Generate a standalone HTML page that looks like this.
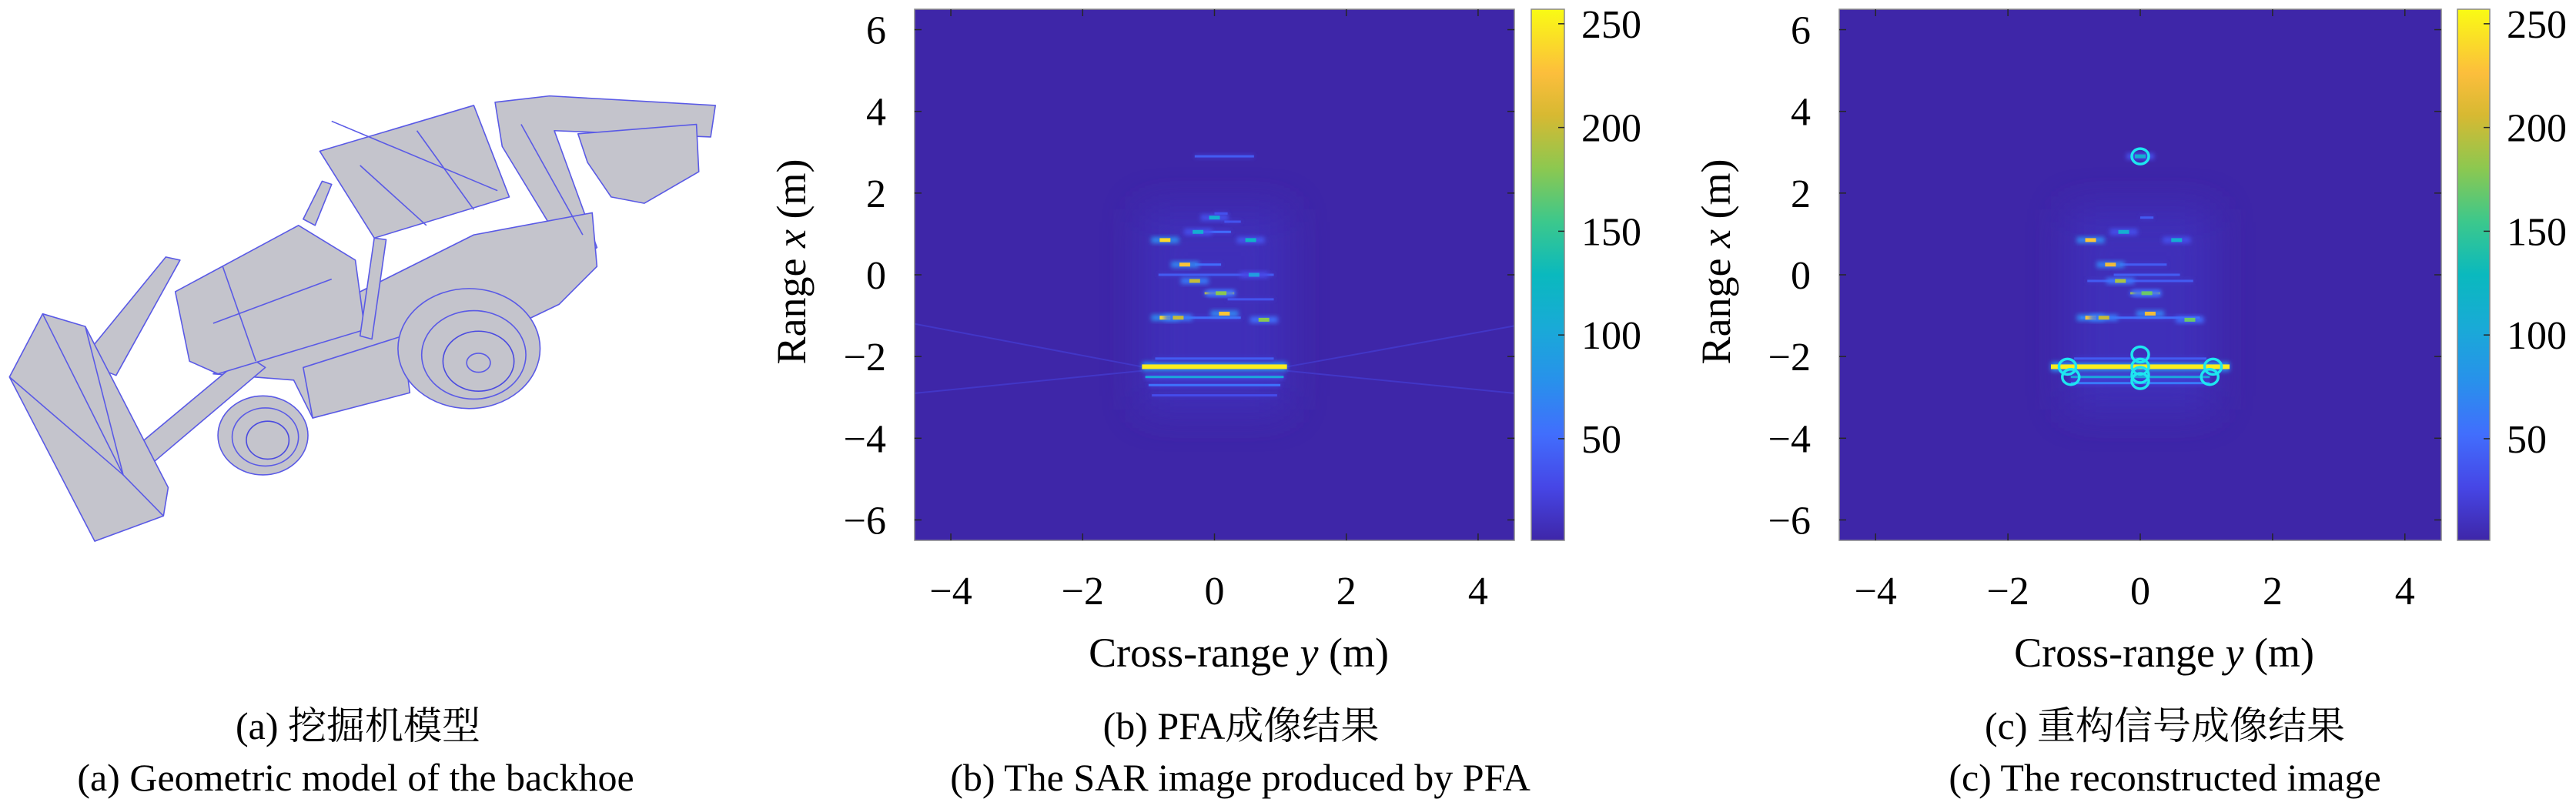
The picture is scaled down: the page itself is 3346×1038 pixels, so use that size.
<!DOCTYPE html>
<html><head><meta charset="utf-8">
<style>
html,body{margin:0;padding:0;background:#fff;}
svg{display:block;}
</style></head>
<body>
<svg id="fig" width="3346" height="1038" viewBox="0 0 3346 1038" xmlns="http://www.w3.org/2000/svg" font-family="'Liberation Serif', 'Noto Serif CJK SC', serif">
<defs>
<linearGradient id="parula" x1="0" y1="1" x2="0" y2="0">
<stop offset="0" stop-color="rgb(62,38,168)"/>
<stop offset="0.1" stop-color="rgb(70,70,230)"/>
<stop offset="0.2" stop-color="rgb(65,110,253)"/>
<stop offset="0.3" stop-color="rgb(40,145,235)"/>
<stop offset="0.4" stop-color="rgb(25,170,215)"/>
<stop offset="0.5" stop-color="rgb(10,185,190)"/>
<stop offset="0.6" stop-color="rgb(60,200,140)"/>
<stop offset="0.7" stop-color="rgb(140,200,80)"/>
<stop offset="0.8" stop-color="rgb(215,185,50)"/>
<stop offset="0.88" stop-color="rgb(252,190,60)"/>
<stop offset="1" stop-color="rgb(249,251,20)"/>
</linearGradient>
<filter id="glow" x="-50%" y="-50%" width="200%" height="200%"><feGaussianBlur stdDeviation="3"/></filter>
<filter id="soft" x="-50%" y="-50%" width="200%" height="200%"><feGaussianBlur stdDeviation="25"/></filter>
</defs>

<!-- Panel (a): backhoe model -->
<svg x="0" y="100" width="960" height="640" viewBox="0 0 1560 1560" preserveAspectRatio="none">
<g fill="#c4c4cc" stroke="#5a5ae6" stroke-width="1.6" stroke-linejoin="round">
<polygon points="1045,80 1160,60 1510,90 1500,190 1170,170 1260,540 1210,590 1060,220" vector-effect="non-scaling-stroke"/>
<polygon points="1220,180 1470,150 1475,300 1360,400 1290,380 1240,270" vector-effect="non-scaling-stroke"/>
<polygon points="450,940 760,680 1000,500 1250,430 1260,600 1180,720 860,950 660,1080 620,960" vector-effect="non-scaling-stroke"/>
<polygon points="170,900 350,570 380,580 245,945" vector-effect="non-scaling-stroke"/>
<polygon points="280,1180 520,880 560,920 320,1225" vector-effect="non-scaling-stroke"/>
<polygon points="370,680 630,470 750,580 770,800 460,940 400,900" vector-effect="non-scaling-stroke"/>
<polygon points="640,450 680,330 700,340 665,470" vector-effect="non-scaling-stroke"/>
<polygon points="760,820 790,510 815,515 785,830" vector-effect="non-scaling-stroke"/>
<polygon points="675,235 1000,90 1075,380 790,510" vector-effect="non-scaling-stroke"/>
<polygon points="640,920 850,820 865,1000 660,1080" vector-effect="non-scaling-stroke"/>
<polygon points="20,950 90,750 180,790 355,1300 345,1390 200,1470" vector-effect="non-scaling-stroke"/>
<polyline fill="none" points="90,750 260,1260 345,1390" vector-effect="non-scaling-stroke"/>
<polyline fill="none" points="180,790 260,1260" vector-effect="non-scaling-stroke"/>
<polyline fill="none" points="20,950 260,1260" vector-effect="non-scaling-stroke"/>
<line x1="470" y1="600" x2="540" y2="900" vector-effect="non-scaling-stroke"/>
<line x1="700" y1="140" x2="1050" y2="360" vector-effect="non-scaling-stroke"/>
<line x1="760" y1="280" x2="900" y2="470" vector-effect="non-scaling-stroke"/>
<line x1="880" y1="170" x2="1000" y2="420" vector-effect="non-scaling-stroke"/>
<line x1="450" y1="780" x2="700" y2="640" vector-effect="non-scaling-stroke"/>
<line x1="1100" y1="150" x2="1230" y2="500" vector-effect="non-scaling-stroke"/>
<ellipse cx="990" cy="860" rx="150" ry="190" vector-effect="non-scaling-stroke"/>
<ellipse cx="1000" cy="880" rx="110" ry="140" fill="none" vector-effect="non-scaling-stroke"/>
<ellipse cx="1010" cy="900" rx="75" ry="95" stroke="#4a4ae0" vector-effect="non-scaling-stroke"/>
<ellipse cx="1010" cy="905" rx="25" ry="30" vector-effect="non-scaling-stroke"/>
<ellipse cx="555" cy="1135" rx="95" ry="125" vector-effect="non-scaling-stroke"/>
<ellipse cx="560" cy="1140" rx="70" ry="92" fill="none" vector-effect="non-scaling-stroke"/>
<ellipse cx="565" cy="1150" rx="45" ry="60" stroke="#4a4ae0" vector-effect="non-scaling-stroke"/>
</g>
</svg>
<text x="465" y="960" font-size="50" text-anchor="middle">(a) 挖掘机模型</text>
<text x="462" y="1027" font-size="50" text-anchor="middle">(a) Geometric model of the backhoe</text>

<g id="panelB"></g>
<g id="panelC"></g>

<text x="1612" y="960" font-size="50" text-anchor="middle">(b) PFA成像结果</text>
<text x="1611" y="1027" font-size="50" text-anchor="middle">(b) The SAR image produced by PFA</text>
<text x="2812" y="960" font-size="50" text-anchor="middle">(c) 重构信号成像结果</text>
<text x="2812" y="1027" font-size="50" text-anchor="middle">(c) The reconstructed image</text>
</svg>

<script>
// ---- data ----
const xTicks = [-4, -2, 0, 2, 4];
const yTicks = [-6, -4, -2, 0, 2, 4, 6];
const cbTicks = [50, 100, 150, 200, 250];
const yRange = [-4.55, 4.55];   // cross-range
const xRange = [-6.5, 6.5];     // range
const cRange = [1, 257];
// streaks: cross-range start, cross-range end, range, intensity
const bStreakY0 = [-1.1, -1.05, -1.0, -0.95, -0.9, -0.15, -0.8, -0.3, -0.25, -0.85, 0.0, -0.3, 0.15, 0.2];
const bStreakY1 = [1.1, 1.05, 1.0, 0.95, 0.9, 0.3, 0.4, 0.1, 0.25, 0.9, 0.2, 0.6, 0.4, 0.9];
const bStreakX  = [-2.25, -2.5, -2.7, -2.95, -2.05, -0.45, -1.05, 0.25, 1.05, 0.0, 1.5, 2.9, 1.3, -0.6];
const bStreakI  = [250, 100, 55, 30, 40, 200, 50, 50, 50, 40, 35, 40, 35, 35];
// bright points: cross-range, range, intensity
const bPtY = [-0.75, -0.45, -0.3, -0.75, -0.55, 0.15, 0.75, 0.55, 0.1, -0.25, 0.6, 0.0];
const bPtX = [0.85, 0.25, -0.15, -1.05, -1.05, -0.95, -1.1, 0.85, -0.45, 1.05, 0.0, 1.4];
const bPtI = [240, 230, 200, 240, 200, 230, 180, 120, 180, 110, 90, 110];
const cStreakY0 = [-1.35, -1.05, -1.05, -1.0, -0.9, -0.15, -0.8, -0.3, -0.4, 0.0];
const cStreakY1 = [1.35, 1.05, 1.05, 1.0, 0.9, 0.3, 0.8, 0.4, 0.6, 0.2];
const cStreakX  = [-2.25, -2.5, -2.65, -2.05, -1.05, -0.45, -0.15, 0.25, 0.0, 1.4];
const cStreakI  = [250, 100, 60, 40, 50, 190, 40, 40, 40, 40];
const cPtY = [-0.75, -0.45, -0.3, -0.75, -0.55, 0.15, 0.75, 0.55, 0.1, -0.25, 0.0];
const cPtX = [0.85, 0.25, -0.15, -1.05, -1.05, -0.95, -1.1, 0.85, -0.45, 1.05, 2.9];
const cPtI = [230, 220, 190, 230, 200, 220, 170, 110, 170, 110, 110];
// reconstructed scatterer circles: cross-range, range
const circY = [0, 0, 0, 0, 0, -1.1, 1.1, -1.05, 1.05];
const circX = [2.9, -1.95, -2.25, -2.45, -2.6, -2.25, -2.25, -2.5, -2.5];

const NS = 'http://www.w3.org/2000/svg';
const FONT = "'Liberation Serif', 'Noto Serif CJK SC', serif";
function mk(tag, attrs, parent) {
  const e = document.createElementNS(NS, tag);
  for (const k in attrs) e.setAttribute(k, attrs[k]);
  parent.appendChild(e);
  return e;
}
const stops = [[0,62,38,168],[0.1,70,70,230],[0.2,65,110,253],[0.3,40,145,235],[0.4,25,170,215],[0.5,10,185,190],[0.6,60,200,140],[0.7,140,200,80],[0.8,215,185,50],[0.88,252,190,60],[1,249,251,20]];
function parula(v) {
  let t = (v - cRange[0]) / (cRange[1] - cRange[0]);
  t = Math.max(0, Math.min(1, t));
  for (let i = 1; i < stops.length; i++) {
    if (t <= stops[i][0]) {
      const a = stops[i-1], b = stops[i], f = (t - a[0]) / (b[0] - a[0]);
      return 'rgb(' + [1,2,3].map(j => Math.round(a[j] + (b[j]-a[j]) * f)).join(',') + ')';
    }
  }
  return 'rgb(249,251,20)';
}

function buildPanel(g, P, sY0, sY1, sX, sI, pY, pX, pI, circles, ident) {
  const T = 12, B = 702;
  const sx = v => P.L + (v - yRange[0]) / (yRange[1] - yRange[0]) * (P.R - P.L);
  const sy = v => B - (v - xRange[0]) / (xRange[1] - xRange[0]) * (B - T);
  const bg = mk('rect', {x: P.L, y: T, width: P.R - P.L, height: B - T, fill: parula(cRange[0])}, g);
  
  
  const clip = mk('clipPath', {id: ident + 'clip'}, g);
  mk('rect', {x: P.L, y: T, width: P.R - P.L, height: B - T}, clip);
  const marks = mk('g', {'clip-path': 'url(#' + ident + 'clip)'}, g);
  
  
  const glow = mk('rect', {x: sx(-1.1), y: sy(1.6), width: sx(1.1) - sx(-1.1), height: sy(-3.3) - sy(1.6), fill: parula(10), opacity: 0.8, filter: 'url(#soft)'}, marks);
  
  
  if (P.diag) {
    const lines = [[yRange[0], -1.2, -1.1, -2.25], [yRange[0], -2.9, -1.1, -2.35], [1.1, -2.25, yRange[1], -1.25], [1.1, -2.35, yRange[1], -2.9]];
    lines.forEach(l => {
      const d = mk('line', {x1: sx(l[0]), y1: sy(l[1]), x2: sx(l[2]), y2: sy(l[3]), stroke: parula(14), 'stroke-width': 2}, marks);
      
      
    });
  }
  for (let i = 0; i < sX.length; i++) {
    const h = sI[i] > 200 ? 6 : 3;
    const halo = mk('rect', {x: sx(sY0[i]), y: sy(sX[i]) - h, width: sx(sY1[i]) - sx(sY0[i]), height: 2 * h, fill: parula(sI[i] * 0.3), filter: 'url(#glow)'}, marks);
    
    
    const r = mk('rect', {x: sx(sY0[i]), y: sy(sX[i]) - h / 2, width: sx(sY1[i]) - sx(sY0[i]), height: h, fill: parula(sI[i])}, marks);
    
    
  }
  for (let i = 0; i < pX.length; i++) {
    const halo = mk('rect', {x: sx(pY[i]) - 18, y: sy(pX[i]) - 4, width: 36, height: 8, fill: parula(pI[i] * 0.3), filter: 'url(#glow)'}, marks);
    
    
    const r = mk('rect', {x: sx(pY[i]) - 7, y: sy(pX[i]) - 2.5, width: 14, height: 5, fill: parula(pI[i])}, marks);
    
    
  }
  if (circles) {
    for (let i = 0; i < circY.length; i++) {
      const c = mk('ellipse', {cx: sx(circY[i]), cy: sy(circX[i]), rx: 11, ry: 10, fill: 'none', stroke: '#1ee6f0', 'stroke-width': 3.5}, marks);
      
      
    }
  }
  const fr = mk('rect', {x: P.L, y: T, width: P.R - P.L, height: B - T, fill: 'none', stroke: '#8a8a8a', 'stroke-width': 1.5}, g);
  
  
  xTicks.forEach(v => {
    const x = sx(v);
    mk('line', {x1: x, y1: B, x2: x, y2: B - 9, stroke: '#262626', 'stroke-width': 1.5}, g);
    mk('line', {x1: x, y1: T, x2: x, y2: T + 9, stroke: '#262626', 'stroke-width': 1.5}, g);
    const t = mk('text', {x: x, y: 785, 'font-size': 52, 'text-anchor': 'middle', 'font-family': FONT}, g);
    t.textContent = v < 0 ? '\u2212' + (-v) : String(v);
    
    
  });
  yTicks.forEach(v => {
    const y = sy(v);
    mk('line', {x1: P.L, y1: y, x2: P.L + 9, y2: y, stroke: '#262626', 'stroke-width': 1.5}, g);
    mk('line', {x1: P.R, y1: y, x2: P.R - 9, y2: y, stroke: '#262626', 'stroke-width': 1.5}, g);
    const t = mk('text', {x: P.L - 37, y: y + 18, 'font-size': 52, 'text-anchor': 'end', 'font-family': FONT}, g);
    t.textContent = v < 0 ? '\u2212' + (-v) : String(v);
    
    
  });
  const yl = mk('text', {x: 0, y: 0, 'font-size': 54, 'text-anchor': 'middle', 'font-family': FONT, transform: 'translate(' + (P.L - 142) + ',340) rotate(-90)'}, g);
  yl.innerHTML = 'Range <tspan font-style="italic">x</tspan> (m)';
  
  
  const xl = mk('text', {x: P.xlc, y: 866, 'font-size': 54, 'text-anchor': 'middle', 'font-family': FONT}, g);
  xl.innerHTML = 'Cross-range <tspan font-style="italic">y</tspan> (m)';
  
  
  const cb = mk('rect', {x: P.cbL, y: T, width: P.cbR - P.cbL, height: B - T, fill: 'url(#parula)', stroke: '#8a8a8a', 'stroke-width': 1.5}, g);
  
  
  const cy = v => B - (v - cRange[0]) / (cRange[1] - cRange[0]) * (B - T);
  cbTicks.forEach(v => {
    const y = cy(v);
    mk('line', {x1: P.cbR, y1: y, x2: P.cbR - 8, y2: y, stroke: '#262626', 'stroke-width': 1.5}, g);
    const t = mk('text', {x: P.cbR + 22, y: y + 18, 'font-size': 52, 'font-family': FONT}, g);
    t.textContent = String(v);
    
    
  });
}
buildPanel(document.getElementById('panelB'), {L: 1188, R: 1967, cbL: 1989, cbR: 2032, xlc: 1609, diag: true},
  bStreakY0, bStreakY1, bStreakX, bStreakI, bPtY, bPtX, bPtI, false, 'pfa');
buildPanel(document.getElementById('panelC'), {L: 2389, R: 3171, cbL: 3192, cbR: 3234, xlc: 2811, diag: false},
  cStreakY0, cStreakY1, cStreakX, cStreakI, cPtY, cPtX, cPtI, true, 'recon');
</script>
</body></html>
